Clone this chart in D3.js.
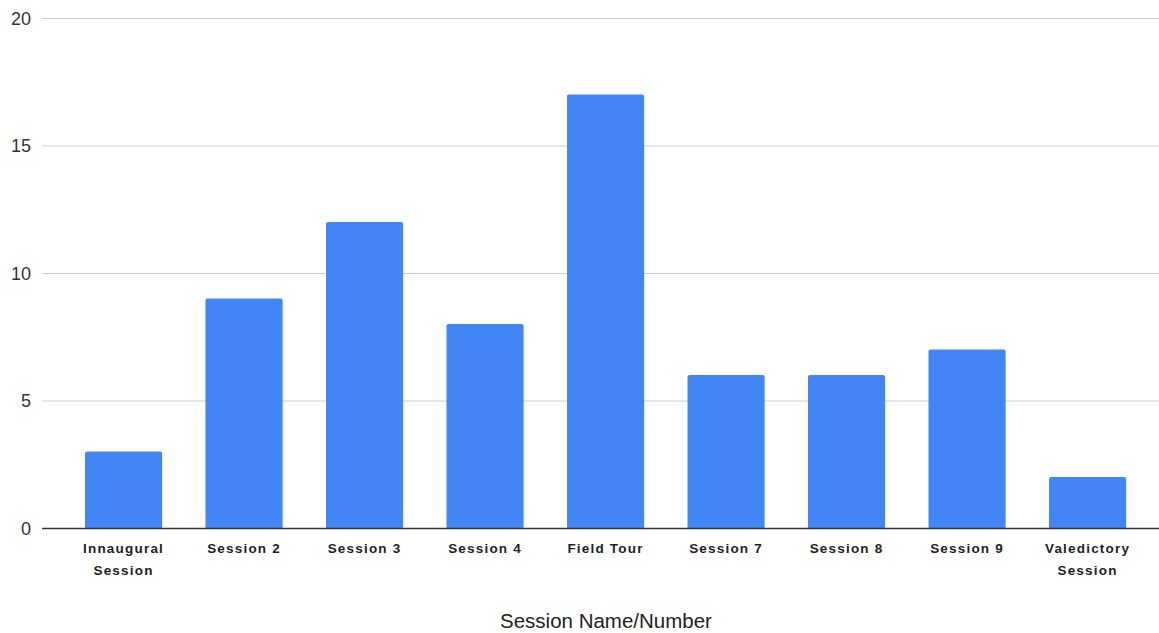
<!DOCTYPE html>
<html>
<head>
<meta charset="utf-8">
<script src="https://cdn.jsdelivr.net/npm/d3@7"></script>
<style>
  html, body { margin: 0; padding: 0; background: #fff; }
  svg { display: block; }
</style>
</head>
<body>
<svg id="chart" width="1159" height="633"></svg>
<script>
// Attendance / count per session
const categories = ["Innaugural Session", "Session 2", "Session 3", "Session 4", "Field Tour", "Session 7", "Session 8", "Session 9", "Valedictory Session"];
const values = [3, 9, 12, 8, 17, 6, 6, 7, 2];
const yTicks = [0, 5, 10, 15, 20];
const xTitle = "Session Name/Number";

const svg = d3.select("#chart");
const plotLeft = 42, plotRight = 1159;
const font = "'Liberation Sans', Arial, sans-serif";

const x = d3.scaleBand()
  .domain(categories)
  .range([63.3, 1147.8])
  .paddingInner(0.36)
  .paddingOuter(0.18);

const y = d3.scaleLinear().domain([0, 20]).range([528, 18]);

// Horizontal gridlines
svg.append("g")
  .selectAll("line")
  .data(yTicks.filter(d => d !== 0))
  .join("line")
  .attr("x1", plotLeft).attr("x2", plotRight)
  .attr("y1", d => y(d) + 0.5).attr("y2", d => y(d) + 0.5)
  .attr("stroke", "#cccccc").attr("stroke-width", 1);

// Y tick labels
svg.append("g")
  .selectAll("text")
  .data(yTicks)
  .join("text")
  .attr("x", 31)
  .attr("y", d => y(d) + 6.5)
  .attr("text-anchor", "end")
  .attr("font-family", font)
  .attr("font-size", 18)
  .attr("fill", "#333")
  .text(d => d);

// Bars with slightly rounded tops
const r = 2;
svg.append("g")
  .selectAll("path")
  .data(values.map((v, i) => ({ c: categories[i], v })))
  .join("path")
  .attr("fill", "#4285f4")
  .attr("d", d => {
    const x0 = x(d.c), w = x.bandwidth(), y0 = y(0), y1 = y(d.v);
    return `M${x0},${y0} V${y1 + r} Q${x0},${y1} ${x0 + r},${y1} H${x0 + w - r} Q${x0 + w},${y1} ${x0 + w},${y1 + r} V${y0} Z`;
  });

// Baseline
svg.append("line")
  .attr("x1", plotLeft).attr("x2", plotRight)
  .attr("y1", y(0) + 0.5).attr("y2", y(0) + 0.5)
  .attr("stroke", "#333333").attr("stroke-width", 1.3);

// Category labels (wrapped to two lines where needed)
const lab = svg.append("g")
  .selectAll("text")
  .data(categories)
  .join("text")
  .attr("x", d => x(d) + x.bandwidth() / 2)
  .attr("y", 553)
  .attr("text-anchor", "middle")
  .attr("font-family", font)
  .attr("font-size", 13.5)
  .attr("font-weight", "bold")
  .attr("letter-spacing", "1.2px")
  .attr("fill", "#222");

lab.each(function(d) {
  const words = d.split(" ");
  const lines = (d === "Innaugural Session" || d === "Valedictory Session") ? [words[0], words.slice(1).join(" ")] : [d];
  d3.select(this).selectAll("tspan")
    .data(lines)
    .join("tspan")
    .attr("x", x(d) + x.bandwidth() / 2)
    .attr("dy", (l, i) => i === 0 ? 0 : 22)
    .text(l => l);
});

// X axis title
svg.append("text")
  .attr("x", 606)
  .attr("y", 628)
  .attr("text-anchor", "middle")
  .attr("font-family", font)
  .attr("font-size", 20.5)
  .attr("fill", "#222")
  .text(xTitle);
</script>
</body>
</html>
